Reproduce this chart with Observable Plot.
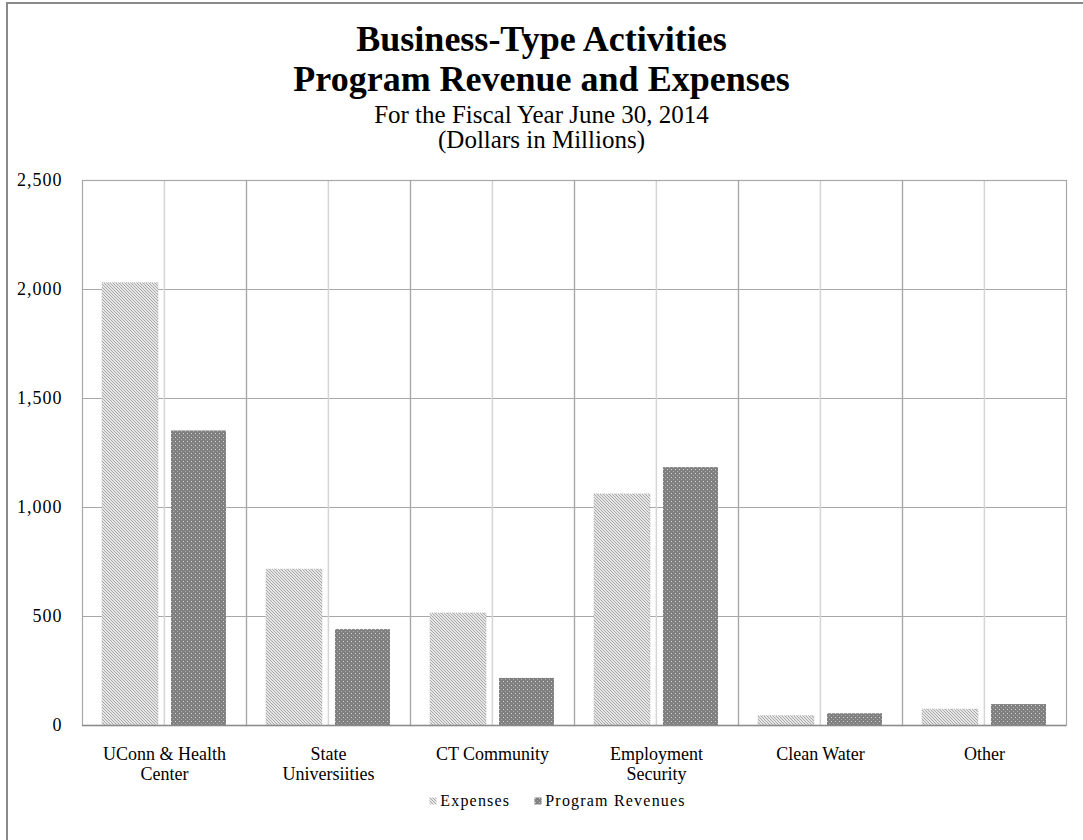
<!DOCTYPE html>
<html><head><meta charset="utf-8">
<script src="https://cdn.jsdelivr.net/npm/d3@7"></script>
<script src="https://cdn.jsdelivr.net/npm/@observablehq/plot@0.6"></script>
<style>
body{margin:0;background:#fff;font-family:"Liberation Serif","Times New Roman",serif;color:#000;}
#border{position:absolute;left:6px;top:2px;width:1200px;height:1000px;border:2px solid #8a8a8a;box-sizing:border-box;}
.t{position:absolute;left:0;width:1083px;text-align:center;white-space:nowrap;}
#chart{position:absolute;left:0;top:160px;}
#legend{position:absolute;left:0;top:791px;width:1083px;box-sizing:border-box;padding-left:32px;display:flex;justify-content:center;align-items:center;font-size:16px;letter-spacing:1.2px;line-height:20px;}
#legend .item{display:flex;align-items:center;margin:0 12px;}
#legend svg{margin-right:3px;}
.yax text{letter-spacing:1px;}
</style></head><body>
<svg width="0" height="0" style="position:absolute">
<defs>
<pattern id="hatch" patternUnits="userSpaceOnUse" width="3" height="3">
<rect width="3" height="3" fill="#ffffff"/>
<path d="M0,0L3,3M-1,2L1,4M2,-1L4,1" stroke="#a4a4a4" stroke-width="1.05"/>
</pattern>
<pattern id="dots" patternUnits="userSpaceOnUse" width="4" height="4">
<rect width="4" height="4" fill="#808080"/>
<rect x="1" y="1" width="1" height="1" fill="#d2d2d2"/>
<rect x="3" y="3" width="1" height="1" fill="#ababab"/>
</pattern>
</defs>
</svg>
<div id="border"></div>
<div class="t" style="top:19px;font-size:36px;font-weight:bold;line-height:40px;">Business-Type Activities</div>
<div class="t" style="top:59px;font-size:36px;font-weight:bold;line-height:40px;">Program Revenue and Expenses</div>
<div class="t" style="top:102px;font-size:25px;line-height:26px;">For the Fiscal Year June 30, 2014</div>
<div class="t" style="top:127px;font-size:25px;line-height:26px;">(Dollars in Millions)</div>
<div id="chart"></div>
<div id="legend"></div>
<script>
const categories = ["UConn & Health Center", "State Universiities", "CT Community", "Employment Security", "Clean Water", "Other"];
const categoryLabels = ["UConn & Health\nCenter", "State\nUniversiities", "CT Community", "Employment\nSecurity", "Clean Water", "Other"];
const series = ["Expenses", "Program Revenues"];
const expenses = [2029, 715, 514, 1060, 43, 73];
const revenues = [1351, 440, 216, 1183, 54, 96];
const yTicks = [0, 500, 1000, 1500, 2000, 2500];

const expenseRows = categories.map((c, i) => ({category: c, series: series[0], value: expenses[i]}));
const revenueRows = categories.map((c, i) => ({category: c, series: series[1], value: revenues[i]}));
const labelRows = categories.map((c, i) => ({category: c, label: categoryLabels[i]}));

const W = 1083, ML = 80, MR = 16;
const halfBand = (W - ML - MR) / categories.length / series.length / 2;

const chart = Plot.plot({
  width: W,
  height: 640,
  marginTop: 20,
  marginBottom: 75,
  marginLeft: ML,
  marginRight: MR,
  style: {fontFamily: '"Liberation Serif", "Times New Roman", serif', fontSize: "17px", color: "#000", background: "transparent", overflow: "visible"},
  fx: {domain: categories, padding: 0, axis: null, label: null},
  x: {domain: series, padding: 0, axis: null, label: null},
  y: {domain: [0, 2500], axis: null, label: null},
  marks: [
    Plot.gridY(yTicks, {stroke: "#a8a8a8", strokeOpacity: 1}),
    Plot.ruleX([series[1]], {dx: -halfBand, stroke: "#d4d4d4", strokeOpacity: 1, strokeWidth: 1.5}),
    Plot.frame({stroke: "#a8a8a8", strokeWidth: 1.2}),
    Plot.barY(expenseRows, {fx: "category", x: "series", y: "value", fill: "url(#hatch)", stroke: "#c4c4c4", strokeDasharray: "1,1", insetLeft: 20, insetRight: 6}),
    Plot.barY(revenueRows, {fx: "category", x: "series", y: "value", fill: "url(#dots)", insetLeft: 7, insetRight: 20}),
    Plot.ruleY([0], {stroke: "#8c8c8c", strokeWidth: 1.5}),
    Plot.axisY(yTicks, {tickSize: 0, tickPadding: 20, tickFormat: d3.format(","), fontSize: 18, label: null, className: "yax"}),
    Plot.text(labelRows, {fx: "category", text: "label", frameAnchor: "bottom", lineAnchor: "top", dy: 21, fontSize: 18, lineHeight: 1.08})
  ]
});
document.getElementById("chart").appendChild(chart);

const legend = d3.select("#legend");
[["hatch", series[0]], ["dots", series[1]]].forEach(([pid, name]) => {
  const item = legend.append("div").attr("class", "item");
  const s = item.append("svg").attr("width", 8).attr("height", 8);
  s.append("rect").attr("width", 7).attr("height", 7).attr("x", 0.5).attr("y", 0.5).attr("fill", `url(#${pid})`);
  item.append("span").text(name);
});
</script>
</body></html>
